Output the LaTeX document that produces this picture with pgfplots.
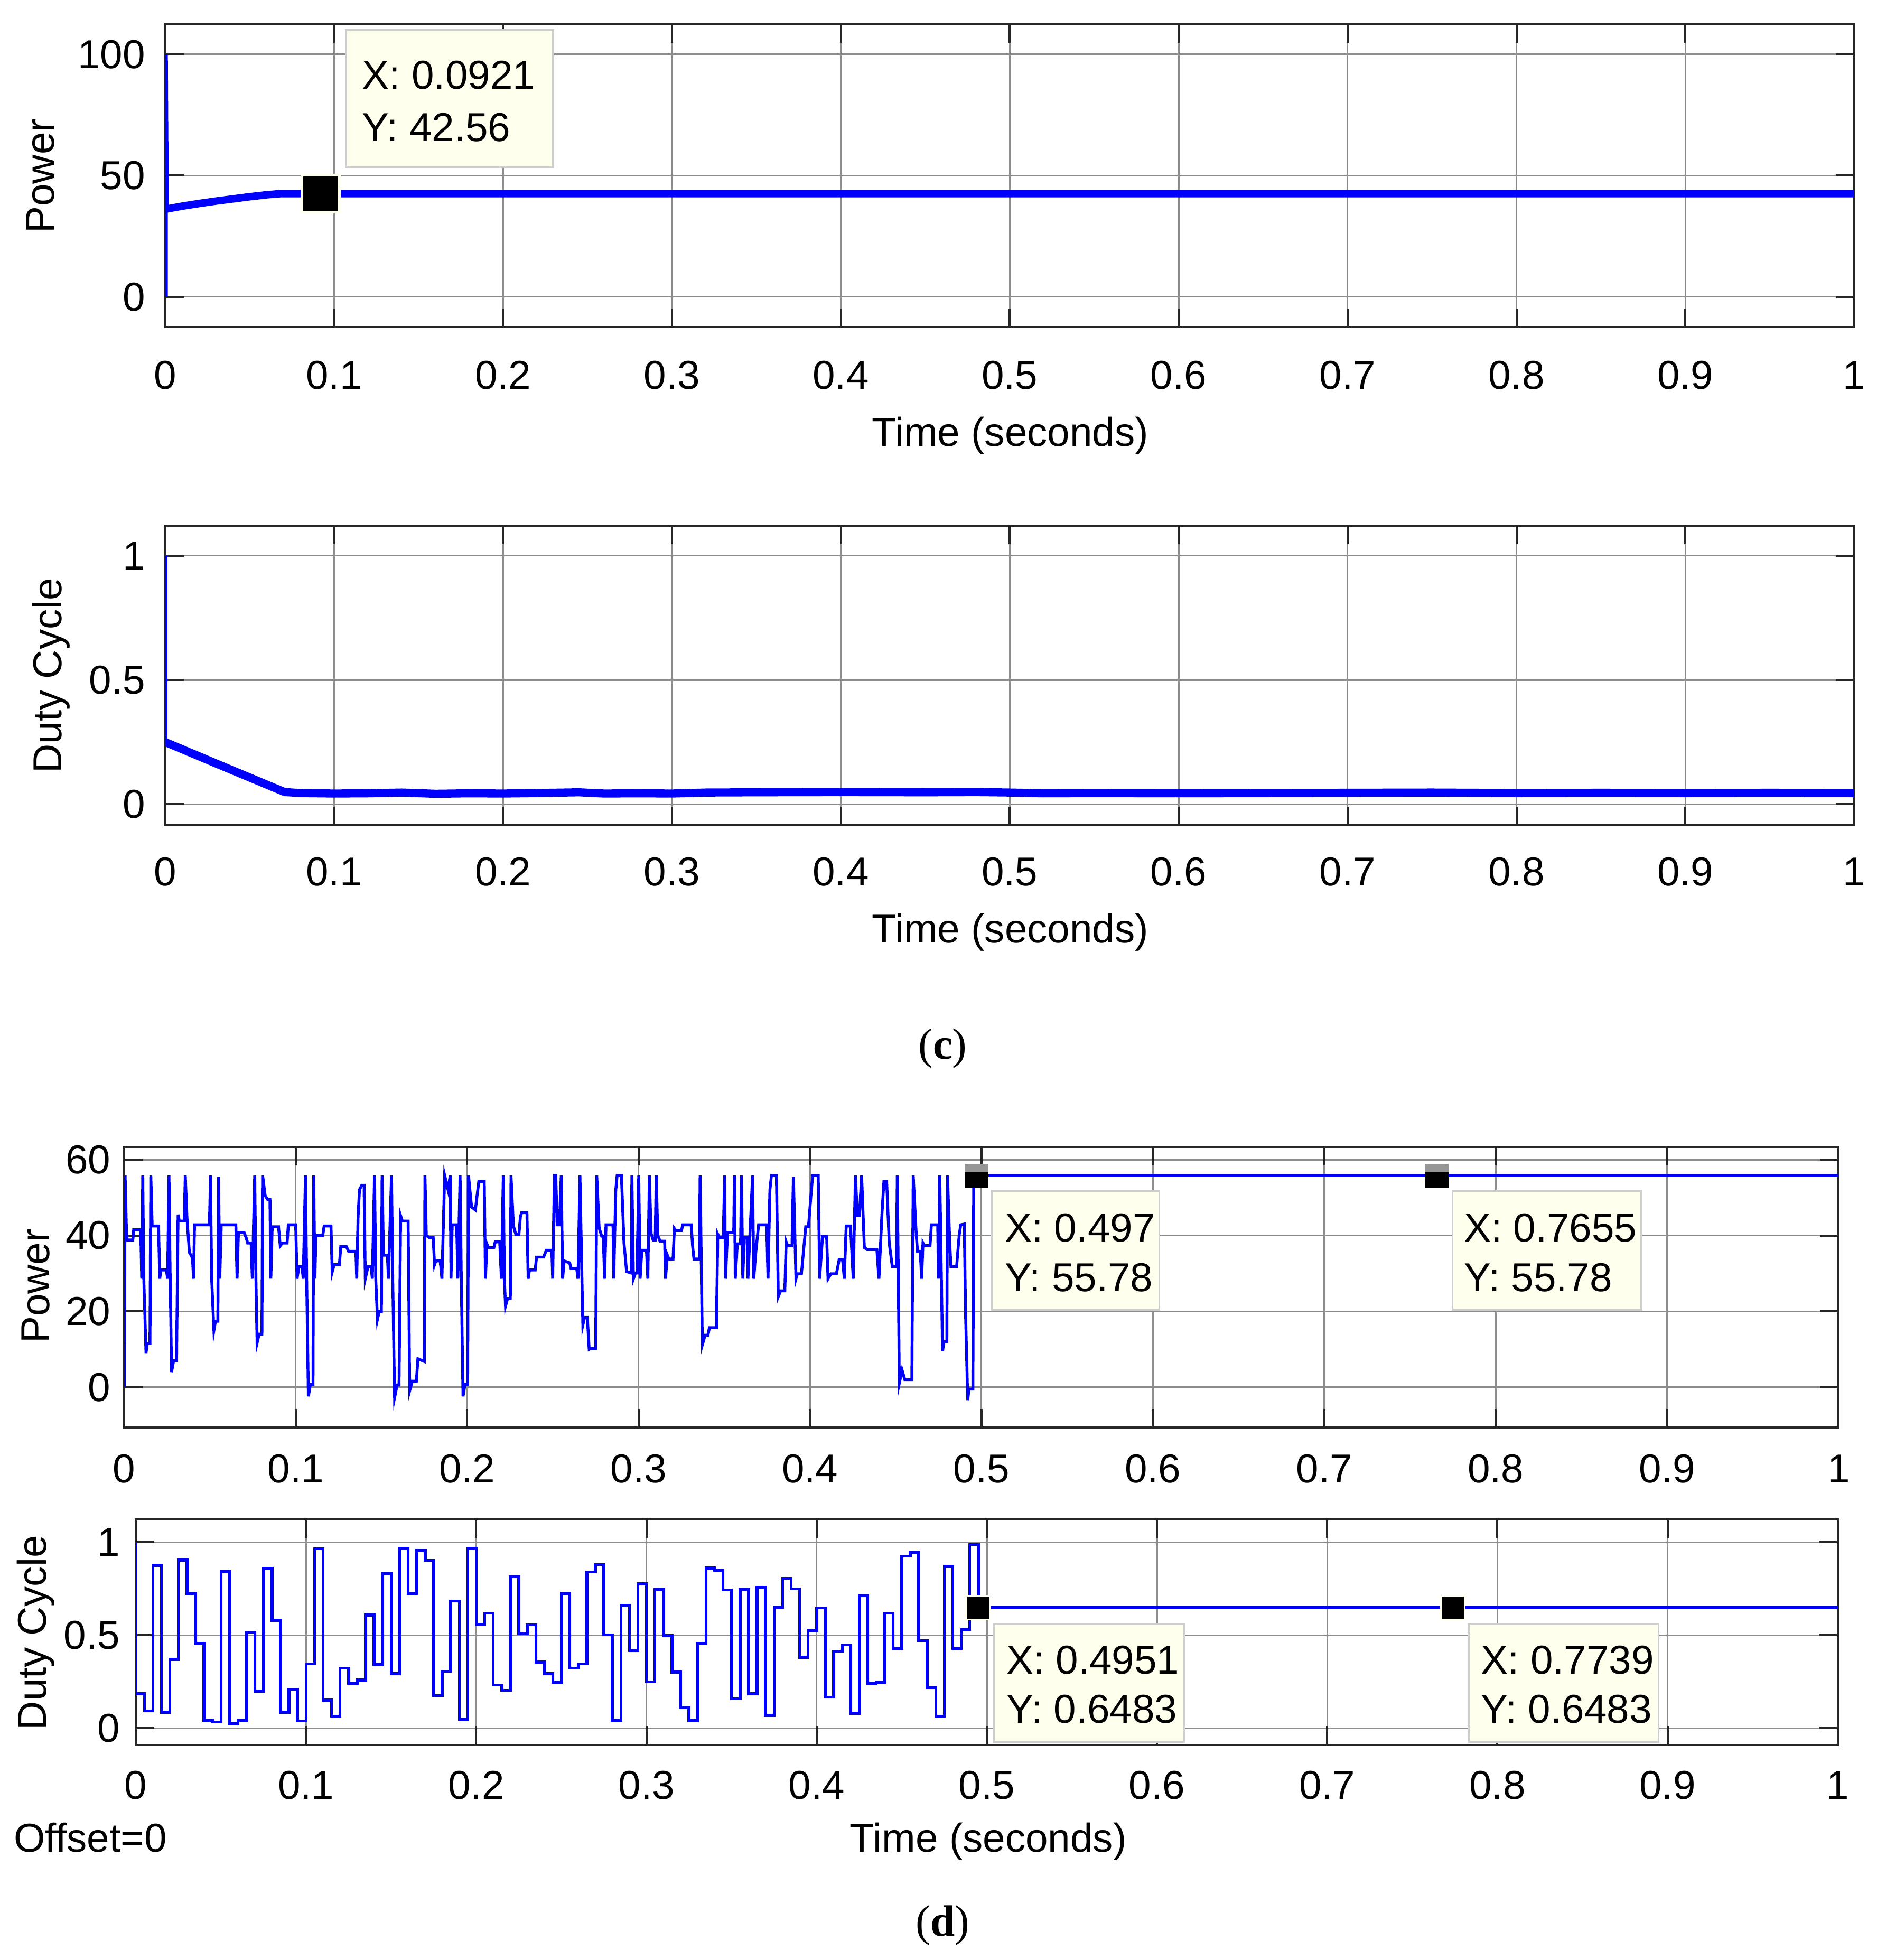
\documentclass[border=0pt]{standalone}
\usepackage{fontspec}
\setmainfont{Liberation Sans}
\newfontfamily\capfont{Liberation Serif}
\usepackage{pgfplots}
\pgfplotsset{compat=1.18}

\definecolor{axcol}{RGB}{38,38,38}
\definecolor{gridcol}{RGB}{140,140,140}
\definecolor{sigblue}{RGB}{0,0,255}
\definecolor{tipfill}{RGB}{255,255,238}
\definecolor{tipedge}{RGB}{205,205,205}
\definecolor{markgray}{RGB}{150,150,150}

\newcommand{\fs}{\fontsize{9.2}{11}\selectfont}

% data tip marker with a grey top band (as in the lower power plot)
\pgfdeclareplotmark{tipg}{%
  \pgfsetfillcolor{black}%
  \pgfpathrectangle{\pgfqpoint{-\pgfplotmarksize}{-\pgfplotmarksize}}{\pgfqpoint{2\pgfplotmarksize}{2\pgfplotmarksize}}%
  \pgfusepathqfill
  \pgfsetfillcolor{markgray}%
  \pgfpathrectangle{\pgfqpoint{-\pgfplotmarksize}{0.27\pgfplotmarksize}}{\pgfqpoint{2\pgfplotmarksize}{0.73\pgfplotmarksize}}%
  \pgfusepathqfill
  \pgfsetfillcolor{black}}

\pgfplotsset{sim/.style={
  anchor=south west, scale only axis,
  xmin=0, xmax=1, enlargelimits=false,
  xtick={0,0.1,0.2,0.3,0.4,0.5,0.6,0.7,0.8,0.9,1},
  xticklabels={0,0.1,0.2,0.3,0.4,0.5,0.6,0.7,0.8,0.9,1},
  tick align=inside, tick pos=both,
  major tick length=1.48mm,
  axis line style={draw=axcol, line width=0.17mm},
  major tick style={draw=axcol, line width=0.17mm},
  grid=major, major grid style={draw=gridcol, line width=0.14mm},
  tick label style={font=\fs, inner sep=0pt, text=black},
  xticklabel style={anchor=base},
  yticklabel style={anchor=east},
}}

\begin{document}
\begin{tikzpicture}[font=\fs]
\path (0,0) rectangle (150.3mm,156.8mm);

% (c) power
\begin{axis}[sim, at={(13.23mm,130.6mm)}, width=135.27mm, height=24.26mm,
  ymin=-12.5, ymax=112.5, ytick={0,50,100}, yticklabels={0,50,100},
  xticklabel style={yshift=-4.97mm}, yticklabel style={xshift=-1.53mm}]
\addplot[sigblue, line width=0.42mm] coordinates {(0,0) (0,100) (0.0006,36.2)};
\addplot[sigblue, line width=0.6mm] coordinates {
  (0.0006,36.2) (0.01,37.4) (0.02,38.5) (0.03,39.5) (0.04,40.4)
  (0.05,41.3) (0.06,42.1) (0.068,42.56) (1,42.56)};
\addplot[only marks, mark=square*, mark size=1.5mm,
  mark options={fill=black, draw=tipfill, line width=0.2mm}] coordinates {(0.0921,42.56)};
\end{axis}

% (c) duty cycle
\begin{axis}[sim, at={(13.23mm,90.7mm)}, width=135.27mm, height=23.99mm,
  ymin=-0.085, ymax=1.12, ytick={0,0.5,1}, yticklabels={0,0.5,1},
  xticklabel style={yshift=-4.85mm}, yticklabel style={xshift=-1.53mm}]
\addplot[sigblue, line width=0.36mm] coordinates {(0,1) (0,0.25)};
\addplot[sigblue, line width=0.65mm] coordinates {
  (0,0.25) (0.035,0.15) (0.0707,0.049) (0.08,0.045) (0.10,0.043) (0.12,0.044)
  (0.14,0.047) (0.16,0.042) (0.18,0.044) (0.20,0.043) (0.22,0.045) (0.245,0.048)
  (0.26,0.043) (0.28,0.044) (0.30,0.043) (0.32,0.047) (0.35,0.048) (0.40,0.049)
  (0.45,0.048) (0.48,0.049) (0.50,0.047) (0.52,0.044) (0.55,0.045) (0.60,0.044)
  (0.65,0.045) (0.70,0.046) (0.75,0.047) (0.80,0.045) (0.85,0.046) (0.90,0.045)
  (0.95,0.046) (1,0.045)};
\end{axis}

% (d) power
\begin{axis}[sim, at={(9.95mm,42.48mm)}, width=137.3mm, height=22.46mm,
  ymin=-10.6, ymax=63.3, ytick={0,20,40,60}, yticklabels={0,20,40,60},
  xticklabel style={yshift=-4.43mm}, yticklabel style={xshift=-1.02mm}]
\addplot[sigblue, line width=0.23mm] coordinates {
(0,0) (0.0005,55.8) (0.0012,42.8) (0.0016,38.8) (0.0050,38.8) (0.0055,41.5) (0.0096,41.5)
(0.0102,28.6) (0.0108,55.8) (0.0114,28.6) (0.0127,9.0) (0.0134,11.5) (0.0150,11.5)
(0.0155,55.8) (0.0163,42.5) (0.0200,42.5) (0.0207,28.6) (0.0214,30.9) (0.0246,30.9)
(0.0253,28.6) (0.0261,55.8) (0.0268,28.6) (0.0276,4.0) (0.0288,7.0) (0.0305,7.0)
(0.0314,45.5) (0.0321,43.8) (0.0350,43.8) (0.0356,55.8) (0.0366,44.5) (0.0380,35.5)
(0.0398,34.1) (0.0404,28.6) (0.0410,42.8) (0.0497,42.8) (0.0503,55.8) (0.0510,28.6)
(0.0523,15.0) (0.0532,17.4) (0.0546,17.4) (0.0550,55.4) (0.0557,28.6) (0.0566,42.8)
(0.0651,42.8) (0.0658,28.6) (0.0666,40.8) (0.0699,40.8) (0.0712,39.3) (0.0720,38.0)
(0.0740,38.0) (0.0747,28.6) (0.0761,55.8) (0.0768,28.6) (0.0775,11.7) (0.0787,14.0)
(0.0803,14.0) (0.0807,55.8) (0.0822,50.5) (0.0836,49.5) (0.0850,49.5) (0.0855,28.6)
(0.0863,42.3) (0.0900,42.3) (0.0910,37.3) (0.0922,38.0) (0.0950,38.0) (0.0957,42.8)
(0.1000,42.8) (0.1008,28.6) (0.1019,31.8) (0.1037,31.8) (0.1044,28.6) (0.1057,55.8)
(0.1064,28.6) (0.1074,-2.4) (0.1086,0.8) (0.1101,0.8) (0.1105,55.8) (0.1112,28.6)
(0.1118,40.0) (0.1158,40.0) (0.1166,42.5) (0.1206,42.5) (0.1213,30.4) (0.1224,32.3)
(0.1255,32.3) (0.1263,37.1) (0.1295,37.1) (0.1309,35.8) (0.1351,35.8) (0.1356,28.6)
(0.1364,45.0) (0.1372,52.0) (0.1385,53.2) (0.1399,53.2) (0.1406,28.6) (0.1422,31.8)
(0.1440,31.8) (0.1447,28.6) (0.1460,55.8) (0.1467,28.6) (0.1477,17.9) (0.1487,19.9)
(0.1500,19.9) (0.1504,55.8) (0.1512,34.8) (0.1535,34.8) (0.1541,28.6) (0.1559,55.8)
(0.1566,28.6) (0.1577,-2.7) (0.1592,0.6) (0.1603,0.6) (0.1612,45.2) (0.1622,43.8)
(0.1656,43.8) (0.1665,-0.9) (0.1680,1.6) (0.1704,1.6) (0.1713,7.5) (0.1750,6.8)
(0.1754,55.8) (0.1762,40.0) (0.1778,39.5) (0.1802,39.5) (0.1810,32.3) (0.1818,33.3)
(0.1843,33.3) (0.1853,28.6) (0.1869,55.8) (0.1889,52.0) (0.1901,55.8) (0.1906,28.6)
(0.1913,42.8) (0.1939,42.8) (0.1946,28.6) (0.1959,55.8) (0.1966,28.6) (0.1976,-2.4)
(0.1988,0.8) (0.2003,0.8) (0.2008,55.8) (0.2026,47.5) (0.2048,46.7) (0.2058,50.5)
(0.2068,54.2) (0.2100,54.2) (0.2107,28.6) (0.2115,37.8) (0.2124,36.8) (0.2156,36.8)
(0.2164,38.3) (0.2190,38.3) (0.2200,28.6) (0.2211,55.8) (0.2217,28.6) (0.2224,21.4)
(0.2236,23.4) (0.2252,23.4) (0.2256,55.8) (0.2270,42.5) (0.2284,40.3) (0.2302,40.3)
(0.2311,45.0) (0.2318,46.0) (0.2349,46.0) (0.2356,28.6) (0.2364,30.9) (0.2397,30.9)
(0.2405,34.3) (0.2446,34.3) (0.2462,36.1) (0.2494,36.1) (0.2499,28.6) (0.2509,55.8)
(0.2517,55.8) (0.2525,42.8) (0.2538,42.8) (0.2549,55.8) (0.2557,28.6) (0.2566,33.3)
(0.2598,32.8) (0.2606,31.3) (0.2639,31.3) (0.2647,28.6) (0.2658,55.8) (0.2675,16.4)
(0.2685,18.4) (0.2701,18.4) (0.2712,10.0) (0.2720,10.2) (0.2750,10.2) (0.2756,55.8)
(0.2770,42.0) (0.2785,39.8) (0.2794,39.8) (0.2802,28.6) (0.2810,42.8) (0.2851,42.8)
(0.2855,28.6) (0.2867,52.0) (0.2875,55.8) (0.2900,55.8) (0.2915,38.0) (0.2930,30.5)
(0.2957,30.1) (0.2961,55.8) (0.2970,28.6) (0.2982,30.1) (0.2991,30.1) (0.3001,55.8)
(0.3009,28.6) (0.3019,36.1) (0.3046,36.1) (0.3054,28.6) (0.3063,55.8) (0.3073,40.5)
(0.3085,38.8) (0.3097,38.8) (0.3103,55.8) (0.3112,40.0) (0.3125,38.5) (0.3152,38.5)
(0.3157,28.6) (0.3168,34.8) (0.3177,33.8) (0.3201,33.8) (0.3209,41.8) (0.3217,41.3)
(0.3250,41.3) (0.3258,42.8) (0.3307,42.8) (0.3315,37.3) (0.3323,33.8) (0.3355,33.8)
(0.3359,55.8) (0.3372,11.2) (0.3388,13.7) (0.3405,13.7) (0.3413,15.7) (0.3454,15.7)
(0.3462,40.3) (0.3470,39.5) (0.3494,39.5) (0.3502,55.8) (0.3507,28.6) (0.3519,40.8)
(0.3555,40.8) (0.3559,55.8) (0.3564,28.6) (0.3576,37.8) (0.3595,37.8) (0.3600,55.8)
(0.3608,28.6) (0.3616,39.5) (0.3633,39.5) (0.3638,28.6) (0.3665,55.8) (0.3672,28.6)
(0.3682,34.8) (0.3700,42.8) (0.3747,42.8) (0.3755,28.6) (0.3766,52.0) (0.3775,55.8)
(0.3804,55.8) (0.3815,23.9) (0.3828,25.4) (0.3853,25.4) (0.3861,38.3) (0.3869,37.3)
(0.3895,37.3) (0.3903,55.4) (0.3918,28.6) (0.3926,29.9) (0.3950,29.9) (0.3975,42.3)
(0.3991,42.3) (0.4008,52.0) (0.4016,55.8) (0.4048,55.8) (0.4056,28.6) (0.4073,39.8)
(0.4097,39.8) (0.4105,28.6) (0.4122,29.9) (0.4154,29.9) (0.4170,33.6) (0.4190,33.6)
(0.4200,28.6) (0.4211,42.5) (0.4236,42.5) (0.4252,28.6) (0.4265,55.8) (0.4276,45.2)
(0.4288,45.2) (0.4301,55.8) (0.4317,36.8) (0.4333,36.3) (0.4390,36.3) (0.4402,28.6)
(0.4420,46.0) (0.4431,54.2) (0.4447,54.2) (0.4462,38.0) (0.4480,31.8) (0.4504,31.8)
(0.4509,55.8) (0.4521,1.1) (0.4537,4.5) (0.4553,2.0) (0.4594,2.0) (0.4602,55.8)
(0.4620,40.0) (0.4627,35.8) (0.4643,35.8) (0.4651,28.6) (0.4659,38.0) (0.4667,37.3)
(0.4700,37.3) (0.4708,42.8) (0.4745,42.8) (0.4749,28.6) (0.4757,55.8) (0.4773,9.5)
(0.4781,12.0) (0.4798,12.0) (0.4802,55.8) (0.4815,38.0) (0.4822,31.8) (0.4855,31.8)
(0.4870,40.0) (0.4879,42.8) (0.4900,43.0) (0.4907,20.0) (0.4920,-3.4) (0.4927,-0.5)
(0.4950,-0.5) (0.4955,55.78) (1,55.78)};
\addplot[only marks, mark=tipg, mark size=0.95mm, mark options={fill=black}]
  coordinates {(0.497,55.78) (0.7655,55.78)};
\end{axis}

% (d) duty cycle
\begin{axis}[sim, at={(10.88mm,17.04mm)}, width=136.3mm, height=18.06mm,
  ymin=-0.091, ymax=1.122, ytick={0,0.5,1}, yticklabels={0,0.5,1},
  xticklabel style={yshift=-4.34mm}, yticklabel style={xshift=-1.2mm}]
\addplot[sigblue, line width=0.23mm, const plot] coordinates {
(0,1) (0,0.186) (0.005,0.093) (0.010,0.876) (0.015,0.086) (0.020,0.370) (0.025,0.905)
(0.030,0.725) (0.035,0.455) (0.040,0.044) (0.045,0.034) (0.050,0.845) (0.055,0.027)
(0.060,0.044) (0.065,0.517) (0.070,0.200) (0.075,0.860) (0.080,0.580) (0.085,0.086)
(0.090,0.209) (0.095,0.039) (0.100,0.346) (0.105,0.966) (0.110,0.152) (0.115,0.065)
(0.120,0.323) (0.125,0.242) (0.130,0.259) (0.135,0.609) (0.140,0.344) (0.145,0.831)
(0.150,0.294) (0.155,0.969) (0.160,0.725) (0.165,0.955) (0.170,0.903) (0.175,0.176)
(0.180,0.306) (0.185,0.684) (0.190,0.048) (0.195,0.968) (0.200,0.559) (0.205,0.619)
(0.210,0.233) (0.215,0.204) (0.220,0.815) (0.225,0.509) (0.230,0.557) (0.235,0.356)
(0.240,0.294) (0.245,0.247) (0.250,0.725) (0.255,0.323) (0.260,0.346) (0.265,0.841)
(0.270,0.881) (0.275,0.503) (0.280,0.042) (0.285,0.661) (0.290,0.417) (0.295,0.777)
(0.300,0.249) (0.305,0.746) (0.310,0.498) (0.315,0.302) (0.320,0.110) (0.325,0.041)
(0.330,0.455) (0.335,0.862) (0.340,0.850) (0.345,0.744) (0.350,0.159) (0.355,0.746)
(0.360,0.186) (0.365,0.758) (0.370,0.069) (0.375,0.651) (0.380,0.806) (0.385,0.749)
(0.390,0.382) (0.395,0.526) (0.400,0.647) (0.405,0.167) (0.410,0.415) (0.415,0.449)
(0.420,0.081) (0.425,0.714) (0.430,0.242) (0.435,0.247) (0.440,0.619) (0.445,0.430)
(0.450,0.926) (0.455,0.947) (0.460,0.471) (0.465,0.219) (0.470,0.064) (0.475,0.870)
(0.480,0.430) (0.485,0.531) (0.490,0.988) (0.495,0.6483) (1,0.6483)};
\addplot[only marks, mark=square*, mark size=0.95mm,
  mark options={fill=black, draw=tipfill, line width=0.12mm}]
  coordinates {(0.4951,0.6483) (0.7739,0.6483)};
\end{axis}

% labels, data tips and panel captions (units: 0.1 mm, y downwards)
\begin{scope}[x=0.1mm, y=-0.1mm, shift={(0,156.8mm)}]
\node[anchor=base] at (809,357.5) {Time (seconds)};
\node[anchor=base] at (809,755) {Time (seconds)};
\node[anchor=base] at (791.5,1483.2) {Time (seconds)};
\node[anchor=base west, inner sep=0pt] at (10.3,1483.2) {Offset=0};
\node[rotate=90, anchor=base, inner sep=0pt] at (43.5,141) {Power};
\node[rotate=90, anchor=base, inner sep=0pt] at (49.5,541) {Duty Cycle};
\node[rotate=90, anchor=base, inner sep=0pt] at (39.5,1030) {Power};
\node[rotate=90, anchor=base, inner sep=0pt] at (37,1307.5) {Duty Cycle};

\draw[fill=tipfill, draw=tipedge, line width=0.15mm] (277,24) rectangle (443,134);
\node[anchor=base west, inner sep=0pt] at (289.5,71.4) {X: 0.0921};
\node[anchor=base west, inner sep=0pt] at (289.5,113.4) {Y: 42.56};

\draw[fill=tipfill, draw=tipedge, line width=0.15mm] (794.6,953.7) rectangle (928.4,1048.8);
\node[anchor=base west, inner sep=0pt] at (804,994.6) {X: 0.497};
\node[anchor=base west, inner sep=0pt] at (804,1034.1) {Y: 55.78};
\draw[fill=tipfill, draw=tipedge, line width=0.15mm] (1163.2,953.7) rectangle (1314.4,1048.8);
\node[anchor=base west, inner sep=0pt] at (1171.8,994.6) {X: 0.7655};
\node[anchor=base west, inner sep=0pt] at (1171.8,1034.1) {Y: 55.78};

\draw[fill=tipfill, draw=tipedge, line width=0.15mm] (796.3,1300.3) rectangle (948.3,1395);
\node[anchor=base west, inner sep=0pt] at (805.4,1340.4) {X: 0.4951};
\node[anchor=base west, inner sep=0pt] at (805.4,1380.1) {Y: 0.6483};
\draw[fill=tipfill, draw=tipedge, line width=0.15mm] (1176.4,1300.3) rectangle (1328.2,1395);
\node[anchor=base west, inner sep=0pt] at (1185.5,1340.4) {X: 0.7739};
\node[anchor=base west, inner sep=0pt] at (1185.5,1380.1) {Y: 0.6483};

\node[font=\capfont\fontsize{10}{12}\selectfont] at (755,839.5) {(\textbf{c})};
\node[font=\capfont\fontsize{10}{12}\selectfont] at (755,1542) {(\textbf{d})};
\end{scope}
\end{tikzpicture}
\end{document}
